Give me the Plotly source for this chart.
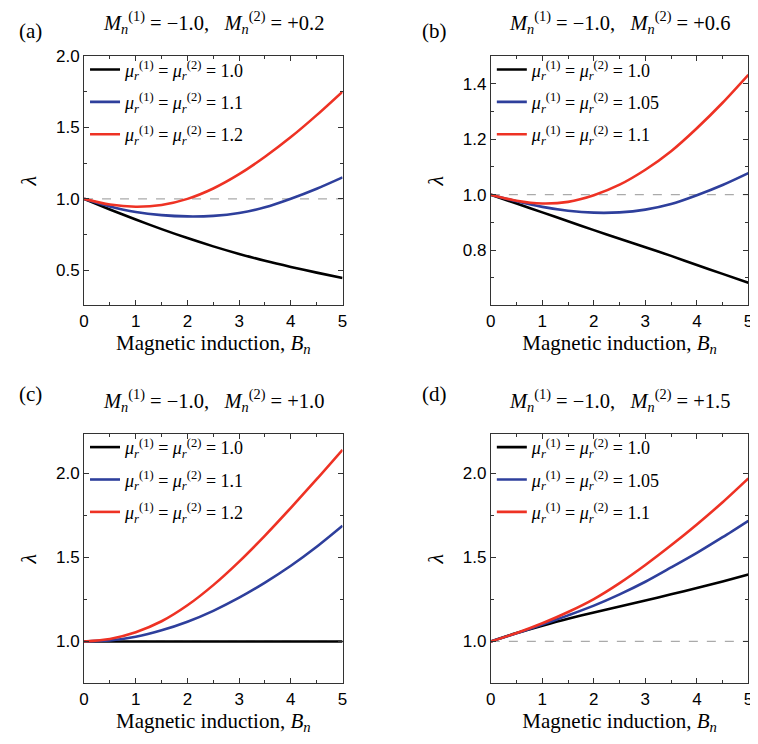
import plotly.graph_objects as go

# ---------------- data ----------------
B = [0, 0.5, 1, 1.5, 2, 2.5, 3, 3.5, 4, 4.5, 5]

panel_labels = ["(a)", "(b)", "(c)", "(d)"]
M2_values = ["+0.2", "+0.6", "+1.0", "+1.5"]
mu_values = [["1.0", "1.1", "1.2"],
             ["1.0", "1.05", "1.1"],
             ["1.0", "1.1", "1.2"],
             ["1.0", "1.05", "1.1"]]

# panel (a)
a_black = [1.0, 0.926, 0.855, 0.788, 0.725, 0.667, 0.614, 0.566, 0.523, 0.483, 0.445]
a_blue = [1.0, 0.947, 0.908, 0.886, 0.877, 0.881, 0.901, 0.941, 1.001, 1.071, 1.151]
a_red = [1.0, 0.96, 0.945, 0.957, 1.0, 1.073, 1.173, 1.295, 1.433, 1.587, 1.752]
# panel (b)
b_black = [1.0, 0.968, 0.936, 0.904, 0.872, 0.841, 0.81, 0.779, 0.746, 0.714, 0.682]
b_blue = [1.0, 0.976, 0.956, 0.942, 0.935, 0.936, 0.946, 0.966, 0.998, 1.035, 1.078]
b_red = [1.0, 0.978, 0.968, 0.974, 0.998, 1.036, 1.09, 1.157, 1.24, 1.332, 1.433]
# panel (c)
c_black = [1.0, 1.0, 1.0, 1.0, 1.0, 1.0, 1.0, 1.0, 1.0, 1.0, 1.0]
c_blue = [1.0, 1.006, 1.028, 1.066, 1.117, 1.182, 1.26, 1.35, 1.45, 1.563, 1.688]
c_red = [1.0, 1.015, 1.055, 1.12, 1.215, 1.335, 1.475, 1.63, 1.795, 1.965, 2.14]
# panel (d)
d_black = [1.0, 1.05, 1.094, 1.135, 1.172, 1.208, 1.244, 1.28, 1.318, 1.357, 1.398]
d_blue = [1.0, 1.048, 1.1, 1.155, 1.213, 1.28, 1.355, 1.44, 1.527, 1.62, 1.718]
d_red = [1.0, 1.05, 1.108, 1.175, 1.252, 1.347, 1.455, 1.572, 1.696, 1.828, 1.97]

series = [[a_black, a_blue, a_red],
          [b_black, b_blue, b_red],
          [c_black, c_blue, c_red],
          [d_black, d_blue, d_red]]

ref_x = [0, 5]
ref_y = [1.0, 1.0]

y_ranges = [[0.253, 2.0], [0.6, 1.5], [0.75, 2.235], [0.75, 2.235]]
y_ticks = [[0.5, 1.0, 1.5, 2.0], [0.8, 1.0, 1.2, 1.4], [1.0, 1.5, 2.0], [1.0, 1.5, 2.0]]
y_minor = [0.25, 0.1, 0.25, 0.25]
x_ticks = [0, 1, 2, 3, 4, 5]

# ---------------- styling ----------------
colors = ["#000000", "#2E3F9C", "#EE3224"]
OFF = 8                      # default page margin of the html body
W, H = 758 - OFF, 744 - OFF
SERIF = "Liberation Serif, Times New Roman, serif"
SANS = "Liberation Sans, Arial, sans-serif"

def fx(px):
    return (px - OFF) / W

def fy(py):
    return 1 - (py - OFF) / H

# plot boxes in screen pixels (left, right, top, bottom)
boxes = [(80, 342, 47.7, 300), (492.3, 753.3, 47.7, 300),
         (80, 342, 430, 682.7), (492.3, 753.3, 430, 682.7)]

fig = go.Figure()

def mu_label(v):
    return ("<i>μ</i><sub><i>r</i></sub><sup>(1)</sup> = "
            "<i>μ</i><sub><i>r</i></sub><sup>(2)</sup> = " + v)

annotations = []
for p in range(4):
    sfx = "" if p == 0 else str(p + 1)
    xa, ya = "x" + sfx, "y" + sfx
    leg = "legend" if p == 0 else "legend" + str(p + 1)
    fig.add_trace(go.Scatter(x=ref_x, y=ref_y, mode="lines", xaxis=xa, yaxis=ya,
                             line=dict(color="#AAAAAA", width=1.3, dash="dash"),
                             showlegend=False, hoverinfo="skip"))
    for k in range(3):
        fig.add_trace(go.Scatter(x=B, y=series[p][k], mode="lines", xaxis=xa, yaxis=ya,
                                 line=dict(color=colors[k], width=2.6, shape="spline",
                                           smoothing=0.8),
                                 name=mu_label(mu_values[p][k]), legend=leg,
                                 legendgroup="g%d_%d" % (p, k)))
    l, r, t, b = boxes[p]
    axis_common = dict(showline=True, linecolor="#333333", linewidth=1, mirror="ticks",
                       ticks="inside", ticklen=5, tickcolor="#333333", showgrid=False,
                       zeroline=False, ticklabeloverflow="allow",
                       tickfont=dict(family=SANS, size=17, color="black"))
    fig.layout["xaxis" + sfx] = dict(domain=[fx(l), fx(r)], anchor=ya, range=[0, 5],
                                     tickmode="array", tickvals=x_ticks,
                                     minor=dict(dtick=0.5, tick0=0, ticks="inside",
                                                ticklen=3, tickcolor="#333333"),
                                     title=dict(text="Magnetic induction, <i>B<sub>n</sub></i>",
                                                font=dict(family=SERIF, size=21, color="black"),
                                                standoff=4),
                                     **axis_common)
    fig.layout["yaxis" + sfx] = dict(domain=[fy(b), fy(t)], anchor=xa, range=y_ranges[p],
                                     tickmode="array", tickvals=y_ticks[p],
                                     tickformat=".1f",
                                     minor=dict(dtick=y_minor[p], tick0=0, ticks="inside",
                                                ticklen=3, tickcolor="#333333"),
                                     title=dict(text="<i>λ</i>",
                                                font=dict(family=SERIF, size=22, color="black"),
                                                standoff=13),
                                     **axis_common)
    fig.layout[leg] = dict(x=fx(l + 1), y=fy(t - 5), xanchor="left", yanchor="top",
                           bgcolor="rgba(0,0,0,0)", borderwidth=0,
                           font=dict(family=SERIF, size=18, color="black"),
                           tracegroupgap=6, itemwidth=30)
    # title
    annotations.append(dict(
        text=("<i>M</i><sub><i>n</i></sub><sup>(1)</sup> = −1.0,&nbsp;&nbsp; "
              "<i>M</i><sub><i>n</i></sub><sup>(2)</sup> = " + M2_values[p]),
        x=fx((l + r) / 2), y=fy(t - 34), xref="paper", yref="paper",
        xanchor="center", yanchor="middle", showarrow=False,
        font=dict(family=SERIF, size=20.5, color="black")))
    # panel label
    lx = 12 if p % 2 == 0 else 420
    if p < 2:
        lab_y, lab_anchor = 1.0, "top"
    else:
        lab_y, lab_anchor = fy(t - 40), "middle"
    annotations.append(dict(text=panel_labels[p], x=fx(lx), y=lab_y,
                            xref="paper", yref="paper", xanchor="left", yanchor=lab_anchor,
                            showarrow=False, font=dict(family=SERIF, size=21, color="black")))

fig.update_layout(width=W, height=H, margin=dict(l=0, r=0, t=0, b=0),
                  paper_bgcolor="white", plot_bgcolor="white",
                  annotations=annotations, showlegend=True)

fig.write_html("out.html")
